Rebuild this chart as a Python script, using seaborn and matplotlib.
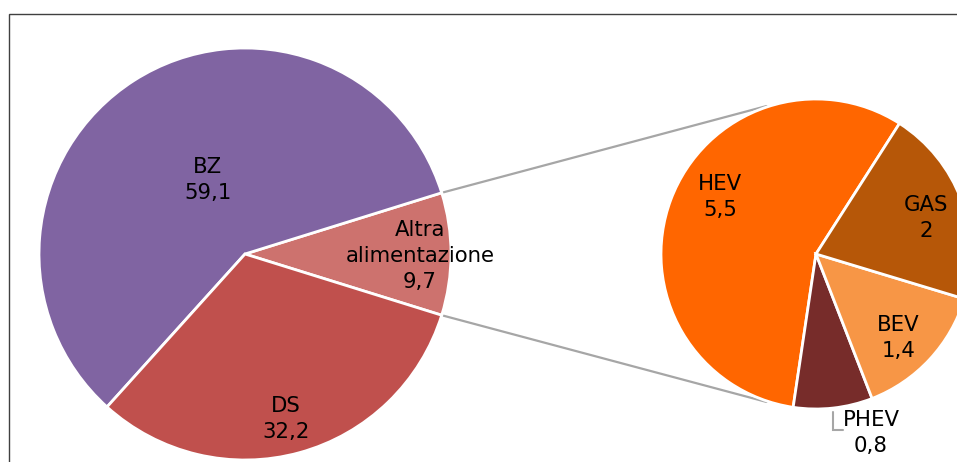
import numpy as np
import matplotlib
matplotlib.use("Agg")
import matplotlib.pyplot as plt
from matplotlib.patches import Rectangle
import seaborn as sns

# Main breakdown by fuel type (%)
main_labels = ["Altra\nalimentazione", "BZ", "DS"]
main_values = [9.7, 59.1, 32.2]

# Breakdown of "Altra alimentazione" (%)
sub_labels = ["HEV", "PHEV", "BEV", "GAS"]
sub_values = [5.5, 0.8, 1.4, 2.0]

sns.set_theme(style="white")
plt.rcParams["font.family"] = ["DejaVu Sans"]

main_colors = ["#CD726E", "#8064A2", "#C0504D"]
sub_colors = ["#FF6600", "#772C2A", "#F79646", "#B65708"]

W, H = 957, 462
fig = plt.figure(figsize=(W / 100, H / 100), dpi=100)
ax = fig.add_axes([0, 0, 1, 1])

def fmt(v):
    s = f"{v:g}"
    return s.replace(".", ",")

# geometry in pixel units (y up)
c1, r1 = (245, H - 254), 206
c2, r2 = (816, H - 254), 155

half = main_values[0] / sum(main_values) * 180
w1, _ = ax.pie(main_values, colors=main_colors, startangle=-half,
               center=c1, radius=r1, counterclock=True,
               wedgeprops=dict(edgecolor="white", linewidth=2))

start2 = 57.4
w2, _ = ax.pie(sub_values, colors=sub_colors, startangle=start2,
               center=c2, radius=r2, counterclock=True,
               wedgeprops=dict(edgecolor="white", linewidth=2))

fs = 15.3
ls = 1.36
# label offsets in radius units, relative to each pie's centre
main_pos = [(0.85, -0.01), (-0.18, 0.36), (0.20, -0.80)]
for lab, val, (dx, dy) in zip(main_labels, main_values, main_pos):
    ax.text(c1[0] + dx * r1, c1[1] + dy * r1, f"{lab}\n{fmt(val)}",
            ha="center", va="center", fontsize=fs, linespacing=ls,
            color="black")

sub_pos = [(-0.62, 0.37), None, (0.53, -0.54), (0.71, 0.23)]
for lab, val, pos in zip(sub_labels, sub_values, sub_pos):
    if pos is None:
        continue
    dx, dy = pos
    ax.text(c2[0] + dx * r2, c2[1] + dy * r2, f"{lab}\n{fmt(val)}",
            ha="center", va="center", fontsize=fs, linespacing=ls,
            color="black")

# PHEV label outside with leader
ph = w2[1]
mid = np.deg2rad((ph.theta1 + ph.theta2) / 2)
px = c2[0] + r2 * np.cos(mid)
py = c2[1] + r2 * np.sin(mid) - 4
ax.plot([px, px, px + 10], [py, H - 430, H - 430], color="#A6A6A6", lw=1.5,
        solid_joinstyle="miter")
ax.text(871, H - 433, f"{sub_labels[1]}\n{fmt(sub_values[1])}",
        ha="center", va="center", fontsize=fs, linespacing=ls, color="black")

# connector lines between the pies
for sgn in (1, -1):
    a1 = np.deg2rad(sgn * half)
    a2 = np.deg2rad(sgn * 108.5)
    x0, y0 = c1[0] + r1 * np.cos(a1), c1[1] + r1 * np.sin(a1)
    x1, y1 = c2[0] + (r2 + 1) * np.cos(a2), c2[1] + (r2 + 1) * np.sin(a2)
    ax.plot([x0, x1], [y0, y1], color="#A6A6A6", lw=1.6, zorder=0)

ax.set_xlim(0, W)
ax.set_ylim(0, H)
ax.set_aspect("equal")
ax.axis("off")

# outer chart frame
fig.patches.append(Rectangle((9 / W, -0.1), 1.2, (H - 14) / H + 0.1,
                             transform=fig.transFigure, fill=False,
                             edgecolor="#404040", linewidth=1.0))

fig.savefig("out.png", dpi=100, facecolor="white")
